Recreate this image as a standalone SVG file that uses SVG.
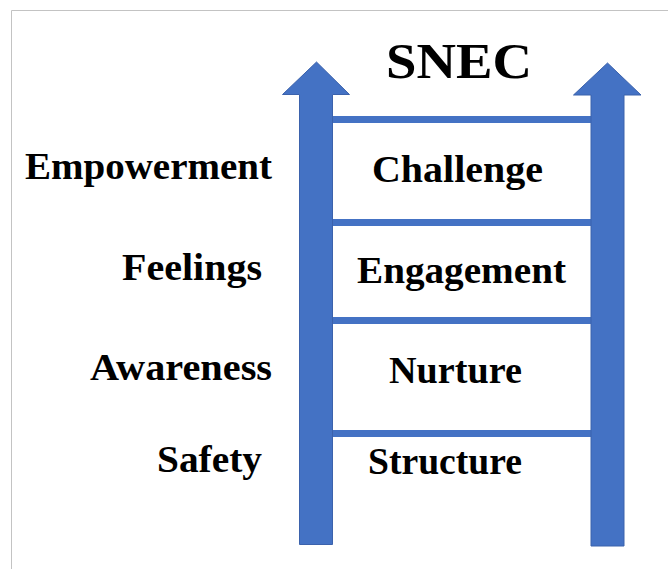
<svg xmlns="http://www.w3.org/2000/svg" width="668" height="569" viewBox="0 0 668 569">
<style>
.t{font-family:"Liberation Serif","Times New Roman",serif;font-weight:bold;fill:#000;}
.s{font-size:37px;}
.b{fill:#4472C4;stroke:#3B62AC;stroke-width:1;}
.r{fill:#4472C4;}
</style>
<rect width="668" height="569" fill="#fff"/>
<path d="M11.5 569V10.5H668" fill="none" stroke="#c3c3c3" stroke-width="1"/>
<g id="connectors">
<rect class="r" x="332" y="116" width="259" height="7"/>
<rect class="r" x="332" y="219" width="259" height="7"/>
<rect class="r" x="332" y="317" width="259" height="7"/>
<rect class="r" x="332" y="430" width="259" height="7"/>
<path id="arrow-left" class="b" d="M299.5 544.5V94.5H282.5L316.5 62L349.5 94.5H332.5V544.5Z"/>
<path id="arrow-right" class="b" d="M591 546V95H573.5L607.5 63L641 95H624V546Z"/>
</g>
<g id="title"><text class="t" x="386" y="78" font-size="51" textLength="146" lengthAdjust="spacingAndGlyphs">SNEC</text></g>
<g id="empowerment"><text class="t s" x="25" y="179" textLength="247" lengthAdjust="spacingAndGlyphs">Empowerment</text></g>
<g id="feelings"><text class="t s" x="122" y="280" textLength="140" lengthAdjust="spacingAndGlyphs">Feelings</text></g>
<g id="awareness"><text class="t s" x="90" y="380" textLength="182" lengthAdjust="spacingAndGlyphs">Awareness</text></g>
<g id="safety"><text class="t s" x="157" y="472" textLength="105" lengthAdjust="spacingAndGlyphs">Safety</text></g>
<g id="challenge"><text class="t s" x="372" y="182" textLength="171" lengthAdjust="spacingAndGlyphs">Challenge</text></g>
<g id="engagement"><text class="t s" x="357" y="283" textLength="209" lengthAdjust="spacingAndGlyphs">Engagement</text></g>
<g id="nurture"><text class="t s" x="389" y="383" textLength="133" lengthAdjust="spacingAndGlyphs">Nurture</text></g>
<g id="structure"><text class="t s" x="368" y="474" textLength="154" lengthAdjust="spacingAndGlyphs">Structure</text></g>
</svg>
